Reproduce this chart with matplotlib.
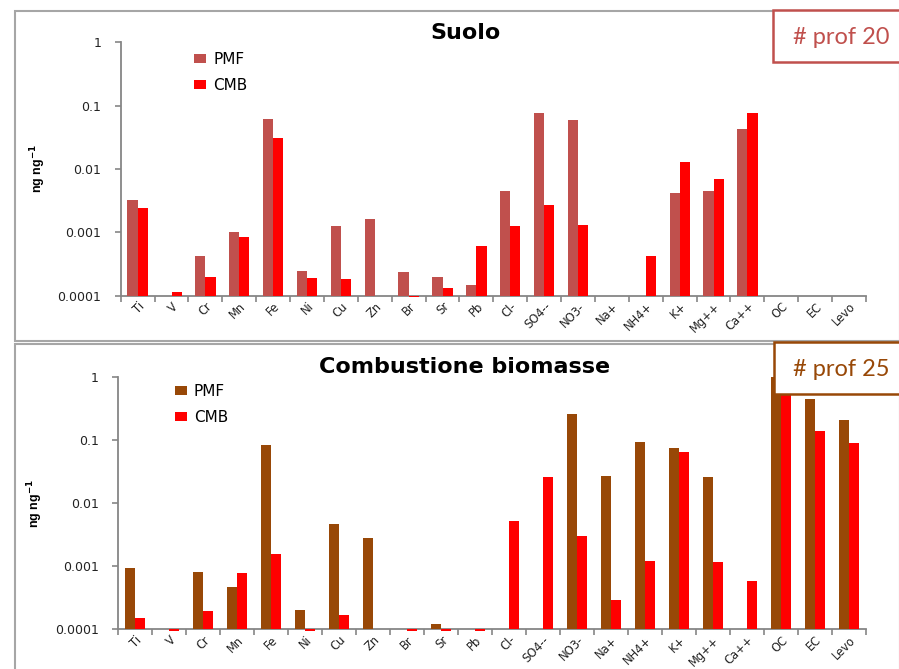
import numpy as np
import matplotlib
matplotlib.use("Agg")
import matplotlib.pyplot as plt
from matplotlib.patches import Rectangle

plt.rcParams['font.family'] = ['DejaVu Sans']

categories = ["Ti", "V", "Cr", "Mn", "Fe", "Ni", "Cu", "Zn", "Br", "Sr", "Pb", "Cl-",
              "SO4--", "NO3-", "Na+", "NH4+", "K+", "Mg++", "Ca++", "OC", "EC", "Levo"]

nan = np.nan
suolo_pmf = [0.00325, nan, 0.00042, 0.0010, 0.0617, 0.000243, 0.00126, 0.00161, 0.000239, 0.00020,
             0.000148, 0.00456, 0.0778, 0.0597, nan, nan, 0.00419, 0.00451, 0.0435, nan, nan, nan]
suolo_cmb = [0.0024, 0.000116, 0.000195, 0.000846, 0.0306, 0.000192, 0.000182, nan, 0.000095, 0.000132,
             0.00060, 0.00128, 0.00268, 0.00131, nan, 0.00042, 0.0128, 0.00705, 0.076, nan, nan, nan]

biom_pmf = [0.00095, nan, 0.00081, 0.000464, 0.083, 0.00020, 0.00464, 0.00278, nan, 0.000121,
            nan, nan, nan, 0.259, 0.0268, 0.093, 0.0755, 0.0262, nan, 1.0, 0.453, 0.21]
biom_cmb = [0.00015, 0.000095, 0.000193, 0.00079, 0.00157, 0.000095, 0.000169, nan, 0.000095, 0.000095,
            0.000095, 0.00524, 0.0259, 0.00303, 0.00029, 0.0012, 0.066, 0.00118, 0.000585, 0.53, 0.139, 0.0896]

yticks = [0.0001, 0.001, 0.01, 0.1, 1]
yticklabels = ["0.0001", "0.001", "0.01", "0.1", "1"]

W, H = 899, 669
fig = plt.figure(figsize=(W / 100, H / 100), dpi=100)


def fx(px):
    return px / W


def fy(py):
    return 1 - py / H


# panel frames
for (y0, y1) in [(10.7, 340.7), (344.0, 680.0)]:
    fig.add_artist(Rectangle((fx(15.3), fy(y1)), fx(900) - fx(15.3), fy(y0) - fy(y1),
                             transform=fig.transFigure, fill=False, edgecolor="#A6A6A6",
                             linewidth=1.5, zorder=0))

base = 1e-4
grey = "#868686"


def panel(rect, pmf, cmb, pmf_color, title, title_y, box_label, box_rect, box_color, leg_anchor):
    ax = fig.add_axes(rect)
    n = len(categories)
    x = np.arange(n)
    w = 0.3
    pmf = np.array(pmf, dtype=float)
    cmb = np.array(cmb, dtype=float)
    ax.bar(x - w / 2, pmf - base, bottom=base, width=w, color=pmf_color, label="PMF",
           zorder=3, clip_on=False)
    ax.bar(x + w / 2, cmb - base, bottom=base, width=w, color="#FF0000", label="CMB",
           zorder=3, clip_on=False)
    ax.set_yscale("log")
    ax.set_ylim(1e-4, 1)
    ax.set_xlim(-0.5, n - 0.5)
    ax.set_yticks(yticks)
    ax.set_yticklabels(yticklabels)
    ax.yaxis.set_minor_locator(matplotlib.ticker.NullLocator())
    ax.set_xticks(np.arange(n + 1) - 0.5)
    ax.set_xticklabels([])
    ax.set_xticks(x, minor=True)
    ax.set_xticklabels(categories, minor=True, rotation=45, ha="right", va="top",
                       rotation_mode="anchor", fontsize=8.3, color="#222222")
    ax.tick_params(axis="x", which="minor", length=0, pad=3)
    ax.tick_params(axis="x", which="major", length=4, color=grey, width=1.2)
    ax.tick_params(axis="y", which="major", length=4, color=grey, width=1.2,
                   labelsize=9, pad=10, labelcolor="#222222")
    for s in ["top", "right"]:
        ax.spines[s].set_visible(False)
    for s in ["left", "bottom"]:
        ax.spines[s].set_color(grey)
        ax.spines[s].set_linewidth(1.3)
    ax.patch.set_alpha(0)
    ax.set_ylabel("ng ng$^{\\mathbf{-1}}$", fontsize=9, fontweight="bold", labelpad=7,
                  family="Liberation Sans")
    ax.legend(loc="upper left", bbox_to_anchor=leg_anchor, frameon=False, fontsize=11,
              handlelength=0.8, handleheight=0.5, labelspacing=0.7, handletextpad=0.45)
    fig.text(fx(465), fy(title_y), title, ha="center", va="center",
             fontsize=16, fontweight="bold")
    bx0, by0, bx1, by1 = box_rect
    fig.add_artist(Rectangle((fx(bx0), fy(by1)), fx(bx1) - fx(bx0), fy(by0) - fy(by1),
                             transform=fig.transFigure, facecolor="white",
                             edgecolor=box_color, linewidth=1.8, zorder=2))
    fig.text(fx(841), fy((by0 + by1) / 2 + 1), box_label, ha="center", va="center",
             fontsize=17, color=box_color, zorder=4, family="Lato")
    return ax


top_rect = [fx(120.7), fy(295.7), fx(866) - fx(120.7), fy(42.3) - fy(295.7)]
bot_rect = [fx(118.3), fy(629.3), fx(866) - fx(118.3), fy(377.3) - fy(629.3)]

panel(top_rect, suolo_pmf, suolo_cmb, "#C0504D", "Suolo", 33, "# prof 20",
      (772.7, 10.3, 905, 62.0), "#C0504D", (0.08, 1.015))
panel(bot_rect, biom_pmf, biom_cmb, "#984807", "Combustione biomasse", 367, "# prof 25",
      (774.3, 342.3, 905, 394.3), "#984807", (0.057, 1.027))

fig.savefig("out.png", dpi=100)
